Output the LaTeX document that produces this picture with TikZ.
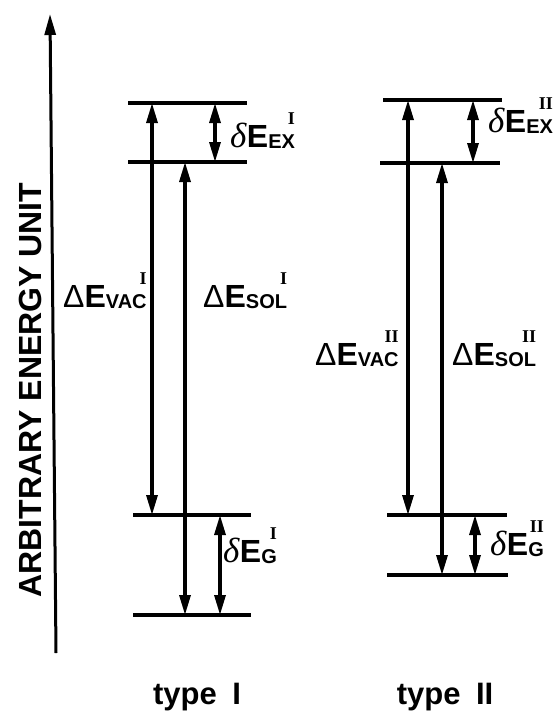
\documentclass[tikz,border=0pt]{standalone}
\usepackage{fontspec}
\setmainfont{Liberation Serif}
\setsansfont{Liberation Sans}
\usepackage{tikz}
\usetikzlibrary{arrows.meta, positioning}

% energy label: prefix, E, subscript, superscript numeral
\newcommand{\enlbl}[3]{%
  {\fontsize{32}{32}\selectfont #1\textbf{E}}%
  \raisebox{-1pt}{\fontsize{20}{20}\selectfont\bfseries #2}%
  \raisebox{23pt}{\makebox[0pt][r]{\fontsize{18}{18}\selectfont\rmfamily\bfseries #3}}}
\newcommand{\bigD}{{\sffamily Δ}}
\newcommand{\smalld}{{\fontsize{35}{35}\selectfont\rmfamily\itshape δ}}

\begin{document}
\begin{tikzpicture}[
    x=1pt, y=-1pt,
    lvl/.style={line width=4.5pt},
    gap/.style={
      line width=3.2pt,
      {Triangle[length=20pt,width=11pt]}-{Triangle[length=20pt,width=11pt]}
    },
    elbl/.style={anchor=base west, inner sep=0pt, font=\sffamily},
    typelbl/.style={anchor=base, inner sep=0pt,
      font=\sffamily\bfseries\fontsize{31}{31}\selectfont}
  ]
  \useasboundingbox (0,0) rectangle (559,713);

  %% Energy axis
  \coordinate (axb) at (56,653);
  \coordinate (axt) at (50,14);
  \draw[line width=3pt, -{Triangle[length=21pt,width=11pt]}] (axb) -- (axt);
  \node[rotate=90, inner sep=0pt,
        font=\sffamily\bfseries\fontsize{32}{32}\selectfont] (axlbl) at (30,390)
    {ARBITRARY ENERGY UNIT};

  %% Type I levels
  \coordinate (exIl) at (128,103);  \coordinate (exIr) at (247,103);
  \coordinate (soIl) at (128,162);  \coordinate (soIr) at (247,162);
  \coordinate (gvIl) at (133,515);  \coordinate (gvIr) at (251,515);
  \coordinate (gsIl) at (133,615);  \coordinate (gsIr) at (251,615);
  \draw[lvl] (exIl) -- (exIr);
  \draw[lvl] (soIl) -- (soIr);
  \draw[lvl] (gvIl) -- (gvIr);
  \draw[lvl] (gsIl) -- (gsIr);

  %% Type I transitions
  \draw[gap] (exIl -| 152,0) -- (gvIl -| 152,0);
  \draw[gap] (soIl -| 185,0) -- (gsIl -| 185,0);
  \draw[gap] (exIl -| 215,0) -- (soIl -| 215,0);
  \draw[gap] (gvIl -| 220,0) -- (gsIl -| 220,0);

  \node[elbl] (vacI) at (63,307)  {\enlbl{\bigD}{VAC}{I}};
  \node[elbl] (solI) at (203,307) {\enlbl{\bigD}{SOL}{I}};
  \node[elbl] (dexI) at (230,147) {\enlbl{\smalld}{EX}{I}};
  \node[elbl] (dgI)  at (223,562) {\enlbl{\smalld}{G}{I}};

  %% Type II levels
  \coordinate (exIIl) at (383,100);  \coordinate (exIIr) at (502,100);
  \coordinate (soIIl) at (380,163);  \coordinate (soIIr) at (500,163);
  \coordinate (gvIIl) at (387,515);  \coordinate (gvIIr) at (507,515);
  \coordinate (gsIIl) at (387,575);  \coordinate (gsIIr) at (508,575);
  \draw[lvl] (exIIl) -- (exIIr);
  \draw[lvl] (soIIl) -- (soIIr);
  \draw[lvl] (gvIIl) -- (gvIIr);
  \draw[lvl] (gsIIl) -- (gsIIr);

  %% Type II transitions
  \draw[gap] (exIIl -| 408,0) -- (gvIIl -| 408,0);
  \draw[gap] (soIIl -| 442,0) -- (gsIIl -| 442,0);
  \draw[gap] (exIIl -| 473,0) -- (soIIl -| 473,0);
  \draw[gap] (gvIIl -| 475,0) -- (gsIIl -| 475,0);

  \node[elbl] (vacII) at (315,365) {\enlbl{\bigD}{VAC}{II}};
  \node[elbl] (solII) at (452,365) {\enlbl{\bigD}{SOL}{II}};
  \node[elbl] (dexII) at (488,132) {\enlbl{\smalld}{EX}{II}};
  \node[elbl] (dgII)  at (490,555) {\enlbl{\smalld}{G}{II}};

  %% Column captions
  \node[typelbl] (typeI)  at (197,704) {type\enspace I};
  \node[typelbl] (typeII) at (445,704) {type\enspace II};
\end{tikzpicture}
\end{document}
